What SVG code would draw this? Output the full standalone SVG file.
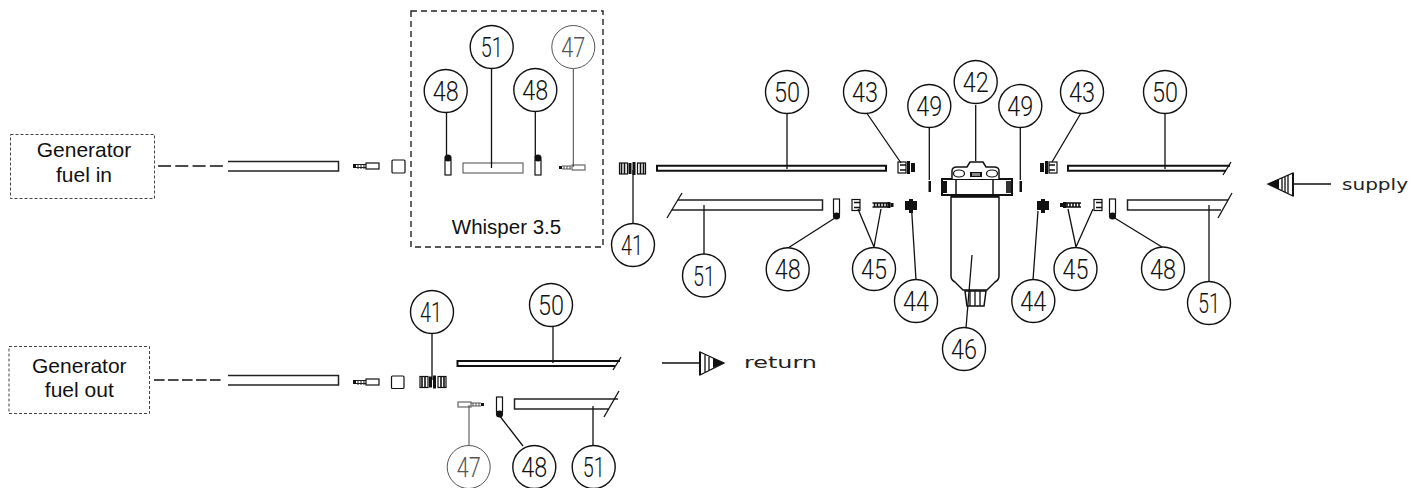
<svg xmlns="http://www.w3.org/2000/svg" xmlns:xlink="http://www.w3.org/1999/xlink" width="1425" height="488" viewBox="0 0 1425 488">
<style>
.bg{fill:#fff}
.c{fill:#fff;stroke:#111;stroke-width:1.4}
.cg{fill:#fff;stroke:#555;stroke-width:1}
.n{font-family:"Roboto","Liberation Sans",Arial,sans-serif;font-size:27px;text-anchor:middle;fill:#111;font-weight:300}
.ng{fill:#555}
.l{font-family:"Liberation Sans",Arial,sans-serif;font-size:21px;text-anchor:middle;fill:#111}
.w{font-family:"DejaVu Sans",sans-serif;font-size:15px;fill:#222}
.box{fill:#fff;stroke:#444;stroke-width:1;stroke-dasharray:3 2}
.box2{fill:none;stroke:#222;stroke-width:1.4;stroke-dasharray:6 4}
.ld{stroke:#111;stroke-width:1.3;fill:none}
.ldg{stroke:#444;stroke-width:1;fill:none}
.p{fill:#fff;stroke:#111;stroke-width:2}
.p1{fill:#fff;stroke:#222;stroke-width:1.5}
.pg{fill:#fff;stroke:#666;stroke-width:1.2}
.th{stroke:#111;stroke-width:1.6;fill:none}
.d{stroke:#111;stroke-width:1.5;stroke-dasharray:13 4.300;fill:none}
.d2{stroke:#111;stroke-width:1.5;stroke-dasharray:10.600 3.400;fill:none}
.k{fill:#111;stroke:none}
.s{fill:#fff;stroke:#111;stroke-width:1.2}
</style>
<defs>
<g id="fit41"><rect class="s" x="0" y="0" width="8" height="11"/><path class="th" d="M2 0v11M5 0v11"/><rect class="s" x="18" y="0" width="8" height="11"/><path class="th" d="M21 0v11M24 0v11"/><rect class="k" x="9" y="0" width="3" height="11"/><rect class="k" x="13" y="-1" width="3" height="13"/></g>
<g id="barb"><rect class="k" x="0" y="1" width="3" height="4"/><path d="M3 1.5h10M3 4.500h10" stroke="#222" stroke-width="1"/><path d="M5 1v5M8 1v5M11 1v5" stroke="#222" stroke-width="1"/><rect class="s" x="13" y="0" width="13" height="6"/></g>
<g id="clamp"><rect class="s" x="0" y="0" width="6" height="15"/><circle class="k" cx="3" cy="17" r="3.600"/></g>
<g id="f43"><rect class="s" x="0" y="0" width="8" height="11"/><path class="th" d="M2 3h6M2 8h6"/><rect class="k" x="9" y="-1" width="3" height="13"/><rect class="k" x="13" y="1" width="4" height="9"/></g>
<g id="f44"><rect class="k" x="0" y="1" width="12" height="9"/><rect class="k" x="4" y="-1" width="4" height="14"/></g>
<g id="f45b"><rect class="s" x="0" y="0" width="8" height="11"/><path class="th" d="M2 3h6M2 8h6"/></g>
<g id="f45a"><path class="th" d="M0 1h17M0 5h17M2 1v4M5 1v4M8 1v4M11 1v4M14 1v4"/><rect class="k" x="15" y="0" width="3" height="6"/><rect class="k" x="18" y="1" width="3" height="4"/></g>
</defs>
<rect class="bg" width="1425" height="488"/>

<g id="pipes">
<path class="p1" d="M228 161.500H338.500V171H228" fill="#fff"/>
<path class="p1" d="M228 375.500H338.500V385H228" fill="#fff"/>
<path class="p" d="M886 165.700H657V170.700H886Z" fill="none"/>
<path class="p" d="M1230 165.700H1068V170.700H1226"/><path class="ld" d="M1223 175L1231 162"/>
<path class="p1" d="M678 200H822.500V210H672"/><path class="ld" d="M667 218L682 193"/>
<path class="p1" d="M1228 200H1127.500V210H1221"/><path class="ld" d="M1218 218L1232 193"/>
<path class="p" d="M620 361H457.500V366H615"/><path class="ld" d="M613 370L621 357"/>
<path class="p1" d="M618 399H514.500V409H609"/><path class="ld" d="M604 417L619 391"/>
</g>

<g id="parts">
<use xlink:href="#barb" x="353" y="163"/>
<rect class="s" x="392" y="160" width="13" height="13" rx="1"/>
<use xlink:href="#barb" x="353" y="379"/>
<rect class="s" x="391.500" y="376" width="12.500" height="12.500" rx="1"/>
<use xlink:href="#fit41" x="619.500" y="163"/>
<use xlink:href="#fit41" x="420" y="376.500"/>
<use xlink:href="#clamp" transform="translate(445,175) scale(1,-1)"/>
<use xlink:href="#clamp" transform="translate(535,175) scale(1,-1)"/>
<rect class="pg" x="463" y="163" width="60" height="10"/>
<g transform="translate(559,165)"><rect class="k" x="0" y="1" width="3" height="3"/><path d="M3 1h9M3 4h9M5 1v3M8 1v3M11 1v3" stroke="#555" stroke-width="1"/><rect class="pg" x="13" y="0" width="13" height="5"/></g>
<g transform="translate(458,402)"><rect class="pg" x="0" y="0" width="13" height="5"/><path d="M13 1h10M13 4h10M15 1v3M18 1v3M21 1v3" stroke="#555" stroke-width="1"/><rect class="k" x="23" y="1" width="3" height="3"/></g>
<use xlink:href="#clamp" x="496.500" y="397"/>
<use xlink:href="#clamp" x="833.500" y="199"/>
<use xlink:href="#clamp" transform="translate(1109.500,199)"/>
<use xlink:href="#f43" x="898" y="162"/>
<use xlink:href="#f43" transform="translate(1057,162) scale(-1,1)"/>
<use xlink:href="#f44" x="905" y="200"/>
<use xlink:href="#f44" x="1037" y="200"/>
<use xlink:href="#f45b" x="852" y="199.500"/>
<use xlink:href="#f45a" x="872.500" y="202"/>
<use xlink:href="#f45b" x="1094" y="199.500"/>
<use xlink:href="#f45a" transform="translate(1081,202) scale(-1,1)"/>
<rect class="k" x="928.500" y="181" width="2.500" height="11"/>
<rect class="k" x="1019.500" y="181" width="2.500" height="11"/>
</g>

<g id="filter">
<path d="M951 197V276Q951 280 955 282L963 290H987L995 282Q999 280 999 276V197Z" fill="#fff" stroke="#111" stroke-width="1.5"/>
<path d="M951 196H999" stroke="#111" stroke-width="2.500"/>
<rect x="942" y="179" width="70" height="16" fill="#fff" stroke="#111" stroke-width="2"/>
<path d="M956 179V195M993 179V195" stroke="#111" stroke-width="1.500"/>
<rect class="k" x="943" y="181" width="4" height="12"/><rect x="1006" y="181" width="5" height="12" fill="#333"/>
<path d="M952 179V171Q952 167 957 167H967L970 162H983L986 167H994Q999 167 999 171V179" fill="#fff" stroke="#111" stroke-width="1.500"/>
<ellipse cx="959" cy="173.500" rx="5.500" ry="3.500" class="s"/><ellipse cx="992" cy="173.500" rx="5.500" ry="3.500" class="s"/>
<rect class="k" x="970" y="172" width="12" height="5"/><rect x="972" y="173" width="8" height="3" fill="#888"/>
<path d="M965 291H986L984 306H967Z" fill="#fff" stroke="#111" stroke-width="1.500"/>
<path d="M970 291V306M975 291V306M980 291V306" stroke="#111" stroke-width="1.300"/>
</g>

<g id="connectors">
<path class="d" d="M158 166H225"/>
<path class="d2" d="M154 380H221"/>
<path class="ld" d="M491.500 69V168M446.500 113V158M535.300 112V158"/>
<path class="ldg" d="M573.300 69V167"/>
<path class="ld" stroke-width="2" d="M633 223V170"/>
<path class="ld" d="M787 114V169M866 112L901 163M929.300 127V180M1020.300 127V180M975.700 105V161M1081 113L1052 162"/>
<path class="ld" d="M1165 114V169M836.500 217L788 248M858 209L874 247M881 209L874 247M911.700 211L916 280M1038 211L1033 280M1068 209L1076 247M1093 209L1076 247M1113 217L1162 247M1209 205V281M704 205V254"/>
<path class="ld" d="M972 255L966 328"/>
<path class="ld" d="M432 334V380M553 320V363M499 415L523 446M593 406V446"/>
<path class="ldg" d="M469 405V446"/>
</g>

<g id="box-gen-in"><rect class="box" x="10.500" y="134.500" width="144" height="64"/><text class="l" x="84" y="157">Generator</text><text class="l" x="84" y="182">fuel in</text></g>
<g id="box-gen-out"><rect class="box" x="9" y="346.500" width="140.500" height="67"/><text class="l" x="79.300" y="373">Generator</text><text class="l" x="79.300" y="397">fuel out</text></g>
<g id="box-whisper"><rect class="box2" x="411" y="11" width="192" height="236"/><text class="l" x="506.500" y="234" style="font-size:20.500px">Whisper 3.5</text></g>

<g id="n51a"><circle class="c" cx="491.700" cy="47" r="21.500"/><text class="n" x="491.700" y="57" textLength="22" lengthAdjust="spacingAndGlyphs">51</text></g>
<g id="n47a"><circle class="cg" cx="573.300" cy="47" r="21.500"/><text class="n ng" x="573.300" y="57" textLength="24" lengthAdjust="spacingAndGlyphs">47</text></g>
<g id="n48a"><circle class="c" cx="445.700" cy="91" r="21.500"/><text class="n" x="445.700" y="101" textLength="26" lengthAdjust="spacingAndGlyphs">48</text></g>
<g id="n48b"><circle class="c" cx="535.300" cy="90" r="21.500"/><text class="n" x="535.300" y="100" textLength="26" lengthAdjust="spacingAndGlyphs">48</text></g>
<g id="n41a"><circle class="c" cx="633" cy="245" r="21.500"/><text class="n" x="632" y="255" textLength="22" lengthAdjust="spacingAndGlyphs">41</text></g>
<g id="n50a"><circle class="c" cx="787" cy="92" r="21.500"/><text class="n" x="787" y="102" textLength="26" lengthAdjust="spacingAndGlyphs">50</text></g>
<g id="n43a"><circle class="c" cx="865" cy="92" r="21.500"/><text class="n" x="865" y="102" textLength="26" lengthAdjust="spacingAndGlyphs">43</text></g>
<g id="n49a"><circle class="c" cx="929.300" cy="106" r="21.500"/><text class="n" x="929.300" y="116" textLength="26" lengthAdjust="spacingAndGlyphs">49</text></g>
<g id="n42"><circle class="c" cx="975.700" cy="82" r="21.500"/><text class="n" x="975.700" y="92" textLength="26" lengthAdjust="spacingAndGlyphs">42</text></g>
<g id="n49b"><circle class="c" cx="1020.300" cy="106" r="21.500"/><text class="n" x="1020.300" y="116" textLength="26" lengthAdjust="spacingAndGlyphs">49</text></g>
<g id="n43b"><circle class="c" cx="1082" cy="92" r="21.500"/><text class="n" x="1082" y="102" textLength="26" lengthAdjust="spacingAndGlyphs">43</text></g>
<g id="n50b"><circle class="c" cx="1165" cy="92" r="21.500"/><text class="n" x="1165" y="102" textLength="26" lengthAdjust="spacingAndGlyphs">50</text></g>
<g id="n51b"><circle class="c" cx="704" cy="275.500" r="21.500"/><text class="n" x="704" y="285.500" textLength="22" lengthAdjust="spacingAndGlyphs">51</text></g>
<g id="n48c"><circle class="c" cx="787.700" cy="269.300" r="21.500"/><text class="n" x="787.700" y="279.300" textLength="26" lengthAdjust="spacingAndGlyphs">48</text></g>
<g id="n45a"><circle class="c" cx="874" cy="269" r="21.500"/><text class="n" x="874" y="279" textLength="26" lengthAdjust="spacingAndGlyphs">45</text></g>
<g id="n44a"><circle class="c" cx="916" cy="301" r="21.500"/><text class="n" x="916" y="311" textLength="26" lengthAdjust="spacingAndGlyphs">44</text></g>
<g id="n44b"><circle class="c" cx="1033.300" cy="301" r="21.500"/><text class="n" x="1033.300" y="311" textLength="26" lengthAdjust="spacingAndGlyphs">44</text></g>
<g id="n45b"><circle class="c" cx="1075.500" cy="269" r="21.500"/><text class="n" x="1075.500" y="279" textLength="26" lengthAdjust="spacingAndGlyphs">45</text></g>
<g id="n48d"><circle class="c" cx="1163" cy="268.500" r="21.500"/><text class="n" x="1163" y="278.500" textLength="26" lengthAdjust="spacingAndGlyphs">48</text></g>
<g id="n51c"><circle class="c" cx="1209" cy="303" r="21.500"/><text class="n" x="1209" y="313" textLength="22" lengthAdjust="spacingAndGlyphs">51</text></g>
<g id="n46"><circle class="c" cx="964" cy="349" r="21.500"/><text class="n" x="964" y="359" textLength="26" lengthAdjust="spacingAndGlyphs">46</text></g>
<g id="n41b"><circle class="c" cx="432" cy="312" r="21.500"/><text class="n" x="431" y="322" textLength="22" lengthAdjust="spacingAndGlyphs">41</text></g>
<g id="n50c"><circle class="c" cx="551" cy="305" r="21.500"/><text class="n" x="551" y="315" textLength="26" lengthAdjust="spacingAndGlyphs">50</text></g>
<g id="n47b"><circle class="cg" cx="468.700" cy="467" r="21.500"/><text class="n ng" x="468.700" y="477" textLength="24" lengthAdjust="spacingAndGlyphs">47</text></g>
<g id="n48e"><circle class="c" cx="534.300" cy="467" r="21.500"/><text class="n" x="534.300" y="477" textLength="26" lengthAdjust="spacingAndGlyphs">48</text></g>
<g id="n51d"><circle class="c" cx="593.700" cy="467" r="21.500"/><text class="n" x="593.700" y="477" textLength="22" lengthAdjust="spacingAndGlyphs">51</text></g>

<g id="arrow-supply">
<path class="ld" d="M1293 184H1331"/>
<path d="M1268 184L1293 173V196Z" fill="#fff" stroke="#111" stroke-width="1.300"/>
<path d="M1268 184L1279 179V189Z" class="k"/>
<path d="M1282 178V190M1285 177V192M1288 175V193" stroke="#111" stroke-width="1.300"/>
<path d="M1293 173V196" stroke="#111" stroke-width="2"/>
<text class="w" x="1342" y="190" textLength="66" lengthAdjust="spacingAndGlyphs">supply</text>
</g>
<g id="arrow-return">
<path class="ld" d="M662 363H700"/>
<path d="M724 363L700 352V375Z" fill="#fff" stroke="#111" stroke-width="1.300"/>
<path d="M724 363L713 358V368Z" class="k"/>
<path d="M705 355V372M709 357V370" stroke="#111" stroke-width="1.300"/>
<path d="M700 352V375" stroke="#111" stroke-width="2"/>
<text class="w" x="744" y="368" textLength="73" lengthAdjust="spacingAndGlyphs">return</text>
</g>
</svg>
